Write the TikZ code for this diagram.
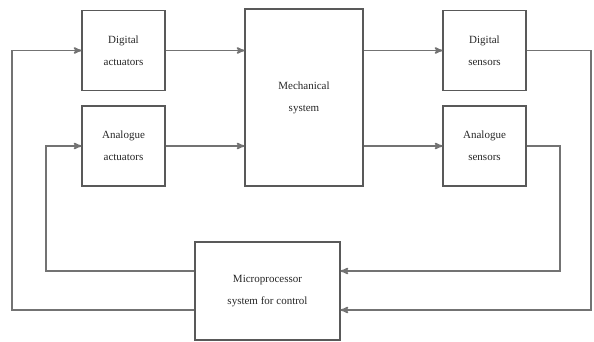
\documentclass[tikz,border=0pt]{standalone}
\usepackage{fontspec}
\setmainfont{Liberation Serif}
\usetikzlibrary{arrows}

\begin{document}
\begin{tikzpicture}[x=1pt,y=-1pt,>=stealth',line width=1.4pt,draw=black!60]

  \tikzstyle{block}=[rectangle,draw=black!65,line width=1.1pt,align=center,
                     text=black!85,font=\fontsize{11}{22}\selectfont]
  \tikzstyle{small block}=[block,minimum width=83pt,minimum height=80pt]
  \tikzstyle{wire}=[black!55,line width=1.6pt]

  \useasboundingbox (0,0) rectangle (594,342);

  \node [small block] (dact) at (123.5,50.5) {Digital\\actuators};
  \node [small block] (aact) at (123.5,146) {Analogue\\actuators};
  \node [block,minimum width=118pt,minimum height=177pt] (mech) at (304,97.5)
        {Mechanical\\system};
  \node [small block] (dsen) at (484.5,50.5) {Digital\\sensors};
  \node [small block] (asen) at (484.5,146) {Analogue\\sensors};
  \node [block,minimum width=145pt,minimum height=98pt] (micro) at (267.5,291)
        {Microprocessor\\system for control};

  % corners of the feedback loops
  \coordinate (la) at (12,310);
  \coordinate (lb) at (46,271);
  \coordinate (ra) at (591,310);
  \coordinate (rb) at (560,271);

  \draw [wire,->] (dact) -- (mech.west |- dact);
  \draw [wire,->] (aact) -- (mech.west |- aact);
  \draw [wire,->] (mech.east |- dsen) -- (dsen);
  \draw [wire,->] (mech.east |- asen) -- (asen);

  \draw [wire,->] (dsen.east) -| (ra) -- (micro.east |- ra);
  \draw [wire,->] (asen.east) -| (rb) -- (micro.east |- rb);
  \draw [wire,->] (micro.west |- la) -- (la) |- (dact.west);
  \draw [wire,->] (micro.west |- lb) -- (lb) |- (aact.west);

\end{tikzpicture}
\end{document}
